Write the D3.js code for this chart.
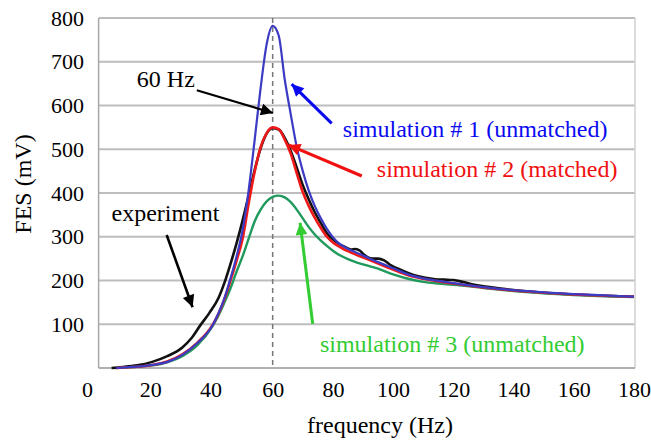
<!DOCTYPE html>
<html>
<head>
<meta charset="utf-8">
<script src="https://cdn.jsdelivr.net/npm/d3@7"></script>
<style>
    body { margin: 0; background: #fff; }
    text { font-family: "Liberation Serif", "Times New Roman", serif; }
</style>
</head>
<body>
<div id="draw"></div>
<script>
// experiment (measured) curve, frequency in Hz and FES in mV
const expFreq = [6.5, 10, 15, 20, 25, 30, 33, 36, 39, 42, 44, 46, 48, 50, 52, 54, 56, 58, 60, 62, 64, 66, 68, 70, 72, 74, 76, 78, 80, 82, 84, 86, 87.5, 89, 90.5, 93, 95, 97, 99, 103, 108, 114, 117, 120, 123, 127, 132, 140, 150, 160, 170, 180];
const expFes = [0, 2, 6, 14, 27, 47, 68, 98, 126, 160, 195, 238, 285, 337, 393, 452, 502, 536, 548, 545, 526, 496, 458, 418, 385, 356, 331, 308, 294, 284, 277, 271, 272, 268, 258, 250, 250, 246, 236, 223, 210, 203, 202, 201, 197, 190, 185, 178, 172, 168, 165, 163];

// simulations share the same frequency samples
const simFreq = [8, 10, 15, 20, 25, 30, 35, 40, 42, 44, 46, 48, 50, 52, 54, 56, 58, 60, 62, 64, 66, 68, 70, 72, 74, 76, 78, 80, 82, 84, 86, 88, 91, 95, 100, 105, 110, 115, 120, 130, 140, 150, 160, 170, 180];
const sim1Fes = [0, 1, 3, 7, 14, 30, 57, 97, 125, 160, 205, 255, 315, 405, 520, 640, 740, 782, 760, 660, 580, 505, 450, 405, 370, 342, 318, 299, 285, 276, 269, 263, 254, 242, 228, 214, 205, 199, 194, 185, 178, 173, 169, 166, 163];
const sim2Fes = [0, 1, 3, 7, 15, 31, 58, 98, 124, 158, 200, 245, 295, 375, 448, 505, 537, 550, 546, 522, 490, 445, 402, 370, 343, 320, 300, 287, 278, 270, 264, 258, 250, 239, 225, 212, 204, 198, 193, 184, 177, 172, 168, 165, 163];
const sim3Fes = [0, 1, 3, 6, 13, 27, 52, 95, 120, 150, 182, 220, 255, 295, 335, 362, 381, 391, 394, 390, 379, 362, 342, 322, 305, 291, 279, 268, 259, 252, 246, 241, 235, 227, 214, 204, 197, 193, 190, 183, 176, 171, 167, 164, 162];

// axis ticks
const xTicks = [0, 20, 40, 60, 80, 100, 120, 140, 160, 180];
const yTicks = [100, 200, 300, 400, 500, 600, 700, 800];
const markerFreq = 60;

class ResonanceChart{

    constructor() {
        this.w = 651;
        this.h = 443;
    }

    render(){
        this._initScales();
        this.vis = this._initSvg();
        this._drawGrid();
        this._drawAxes();
        this._drawCurves();
        this._drawAnnotations();
    }

    _initScales(){
        this.x = d3.scaleLinear().domain([0, 180]).range([92, 634]);
        this.y = d3.scaleLinear().domain([0, 800]).range([368, 18]);
        //the frame starts a little after 0 Hz, like in the original figure
        this.left = this.x(2.2);
    }

    _initSvg(){
        return d3.select("#draw").append("svg")
            .attr("width", this.w)
            .attr("height", this.h);
    }

    _drawGrid(){
        const right = this.x(180) + 1;
        this.vis.append("g").selectAll("line")
            .data(yTicks)
            .join("line")
            .attr("x1", this.left)
            .attr("x2", right)
            .attr("y1", d => this.y(d))
            .attr("y2", d => this.y(d))
            .style("stroke", "#bdbdbd")
            .style("stroke-width", 2);
        //frame
        this.vis.append("line")
            .attr("x1", right).attr("x2", right)
            .attr("y1", this.y(800)).attr("y2", this.y(0))
            .style("stroke", "#d0d0d0")
            .style("stroke-width", 1.5);
        this.vis.append("line")
            .attr("x1", this.left).attr("x2", right)
            .attr("y1", this.y(0)).attr("y2", this.y(0))
            .style("stroke", "#b0b0b0")
            .style("stroke-width", 2);
        this.vis.append("line")
            .attr("x1", this.left).attr("x2", this.left)
            .attr("y1", this.y(800)).attr("y2", this.y(0))
            .style("stroke", "#a8a8a8")
            .style("stroke-width", 1.5);
        //dashed 60 Hz marker
        this.vis.append("line")
            .attr("x1", this.x(markerFreq)).attr("x2", this.x(markerFreq))
            .attr("y1", this.y(800)).attr("y2", this.y(0))
            .style("stroke", "#777")
            .style("stroke-width", 1.5)
            .style("stroke-dasharray", "5,4");
    }

    _drawAxes(){
        const xAxis = d3.axisBottom(this.x).tickValues(xTicks).tickSize(0).tickPadding(0);
        const gx = this.vis.append("g")
            .attr("transform", "translate(0," + 380 + ")")
            .call(xAxis);
        gx.select(".domain").remove();
        gx.selectAll("text")
            .attr("dy", "0.75em")
            .attr("dx", d => d == 0 ? -5 : (d < 60 ? -2 : 0))
            .style("font-family", "'Liberation Serif'")
            .style("font-size", "22px")
            .style("fill", "#000");

        const yAxis = d3.axisLeft(this.y).tickValues(yTicks).tickSize(0).tickPadding(0);
        const gy = this.vis.append("g")
            .attr("transform", "translate(" + 84 + ",0)")
            .call(yAxis);
        gy.select(".domain").remove();
        gy.selectAll("text")
            .style("font-family", "'Liberation Serif'")
            .style("font-size", "22px")
            .style("fill", "#000");

        this.vis.append("text")
            .attr("x", 380)
            .attr("y", 433)
            .attr("text-anchor", "middle")
            .style("font-size", "24px")
            .text("frequency (Hz)");
        this.vis.append("text")
            .attr("transform", "translate(31,184) rotate(-90)")
            .attr("text-anchor", "middle")
            .style("font-size", "24px")
            .text("FES (mV)");
    }

    _drawCurves(){
        const series = [
            {freq: expFreq, fes: expFes, color: "#111", width: 2.6},
            {freq: simFreq, fes: sim3Fes, color: "#1f9a5c", width: 2.4},
            {freq: simFreq, fes: sim2Fes, color: "#ee1a1a", width: 2.6},
            {freq: simFreq, fes: sim1Fes, color: "#3b3bc4", width: 2.2}
        ];
        const line = d3.line()
            .x(d => this.x(d[0]))
            .y(d => this.y(d[1]))
            .curve(d3.curveMonotoneX);
        series.forEach((s) => {
            this.vis.append("path")
                .attr("d", line(d3.zip(s.freq, s.fes)))
                .style("fill", "none")
                .style("stroke", s.color)
                .style("stroke-width", s.width)
                .style("stroke-linejoin", "round");
        });
    }

    _drawAnnotations(){
        const notes = [
            {text: "60 Hz", tx: 14.9, ty: 642, color: "#000", from: [34.8, 635], to: [60.1, 583], w: 2.2},
            {text: "simulation # 1 (unmatched)", tx: 83.3, ty: 529, color: "#0a0af0", from: [79.6, 559], to: [66.3, 649], w: 3},
            {text: "simulation # 2 (matched)", tx: 94.6, ty: 436, color: "#f01010", from: [89.6, 439], to: [65.2, 510], w: 3.2},
            {text: "simulation # 3 (unmatched)", tx: 75.7, ty: 37, color: "#33cc33", from: [73.3, 101], to: [69.1, 332], w: 3},
            {text: "experiment", tx: 6.5, ty: 336, color: "#000", from: [24.8, 304], to: [33.4, 139], w: 2.6}
        ];
        const defs = this.vis.append("defs");
        notes.forEach((n, i) => {
            defs.append("marker")
                .attr("id", "head" + i)
                .attr("viewBox", "0 0 10 10")
                .attr("refX", 10)
                .attr("refY", 5)
                .attr("markerUnits", "userSpaceOnUse")
                .attr("markerWidth", 15)
                .attr("markerHeight", 12)
                .attr("orient", "auto")
                .append("path")
                .attr("d", "M0,0 L10,5 L0,10 Z")
                .style("fill", n.color);
            this.vis.append("line")
                .attr("x1", this.x(n.from[0]))
                .attr("y1", this.y(n.from[1]))
                .attr("x2", this.x(n.to[0]))
                .attr("y2", this.y(n.to[1]))
                .style("stroke", n.color)
                .style("stroke-width", n.w)
                .attr("marker-end", "url(#head" + i + ")");
            this.vis.append("text")
                .attr("x", this.x(n.tx))
                .attr("y", this.y(n.ty))
                .style("font-size", "24px")
                .style("fill", n.color)
                .text(n.text);
        });
    }

}

new ResonanceChart().render();
</script>
</body>
</html>
